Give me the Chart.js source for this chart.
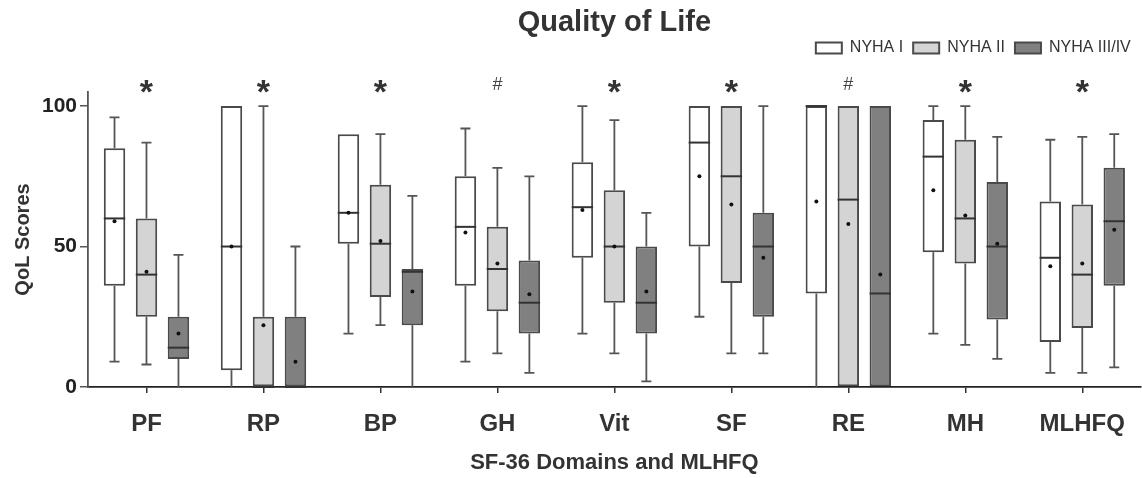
<!DOCTYPE html>
<html><head><meta charset="utf-8">
<script src="https://cdn.jsdelivr.net/npm/chart.js@4.4.1/dist/chart.umd.min.js"></script>
<style>html,body{margin:0;padding:0;background:#fff;} #wrap{width:1142px;height:478px;position:relative;}</style>
</head><body><div id="wrap"><canvas id="c"></canvas></div>
<script>
const categories = ['PF','RP','BP','GH','Vit','SF','RE','MH','MLHFQ'];
const groups = ['NYHA I','NYHA II','NYHA III/IV'];
const sigMarks = ['*','*','*','#','*','*','#','*','*'];
const yTickValues = [0, 50, 100];

// NYHA I
const min1  = [9, 0, 19, 9, 19, 25, 0, 19, 5];
const q1_1  = [36, 6, 51, 36, 46, 50, 33.3, 48, 16];
const med1  = [60, 50, 62, 57, 64, 87, 100, 82, 46];
const q3_1  = [85, 100, 90, 75, 80, 100, 100, 95, 66];
const max1  = [96, 100, 90, 92, 100, 100, 100, 100, 88];
const mean1 = [59, 50, 62, 55, 63, 75, 66, 70, 43];
// NYHA II
const min2  = [8, 0, 22, 12, 12, 12, 0, 15, 5];
const q1_2  = [25, 0, 32, 27, 30, 37, 0, 44, 21];
const med2  = [40, 0, 51, 42, 50, 75, 66.7, 60, 40];
const q3_2  = [60, 25, 72, 57, 70, 100, 100, 88, 65];
const max2  = [87, 100, 90, 78, 95, 100, 100, 100, 89];
const mean2 = [41, 22, 52, 44, 50, 65, 58, 61, 44];
// NYHA III/IV
const min3  = [0, 0, 0, 5, 2, 12, 0, 10, 7];
const q1_3  = [10, 0, 22, 19, 19, 25, 0, 24, 36];
const med3  = [14, 0, 41, 30, 30, 50, 33.3, 50, 59];
const q3_3  = [25, 25, 42, 45, 50, 62, 100, 73, 78];
const max3  = [47, 50, 68, 75, 62, 100, 100, 89, 90];
const mean3 = [19, 9, 34, 33, 34, 46, 40, 51, 56];

const MIN = [min1, min2, min3], Q1 = [q1_1, q1_2, q1_3], MED = [med1, med2, med3],
      Q3 = [q3_1, q3_2, q3_3], MAX = [max1, max2, max3], MEAN = [mean1, mean2, mean3];

Chart.defaults.font.family = "'Liberation Sans', Arial, sans-serif";
Chart.defaults.color = '#333';

const fills = ['#ffffff', '#d4d4d4', '#808080'];
const datasets = groups.map((g, i) => ({
  label: g,
  data: categories.map((c, j) => [Q1[i][j], Q3[i][j]]),
  backgroundColor: fills[i],
  borderColor: '#4a4a4a',
  borderWidth: 2,
  borderSkipped: false,
  categoryPercentage: 0.82,
  barPercentage: 0.67
}));

const boxExtras = {
  id: 'boxExtras',
  afterDatasetsDraw(chart) {
    const ctx = chart.ctx, y = chart.scales.y;
    groups.forEach((g, i) => {
      const meta = chart.getDatasetMeta(i);
      meta.data.forEach((bar, j) => {
        const x = bar.x, w = bar.width;
        const p = v => y.getPixelForValue(v);
        ctx.save();
        ctx.strokeStyle = '#555';
        ctx.lineWidth = 1.8;
        if (MAX[i][j] > Q3[i][j]) {
          ctx.beginPath(); ctx.moveTo(x, p(Q3[i][j])); ctx.lineTo(x, p(MAX[i][j]));
          ctx.moveTo(x - 5, p(MAX[i][j])); ctx.lineTo(x + 5, p(MAX[i][j])); ctx.stroke();
        }
        if (MIN[i][j] < Q1[i][j]) {
          ctx.beginPath(); ctx.moveTo(x, p(Q1[i][j])); ctx.lineTo(x, p(MIN[i][j]));
          if (MIN[i][j] > 0) { ctx.moveTo(x - 5, p(MIN[i][j])); ctx.lineTo(x + 5, p(MIN[i][j])); }
          ctx.stroke();
        }
        ctx.strokeStyle = '#333';
        ctx.lineWidth = 2;
        ctx.beginPath(); ctx.moveTo(x - w / 2, p(MED[i][j])); ctx.lineTo(x + w / 2, p(MED[i][j])); ctx.stroke();
        ctx.fillStyle = '#111';
        ctx.beginPath(); ctx.arc(x, p(MEAN[i][j]), 2, 0, Math.PI * 2); ctx.fill();
        ctx.restore();
      });
    });
    const mid = chart.getDatasetMeta(1);
    ctx.save();
    ctx.textAlign = 'center';
    ctx.textBaseline = 'alphabetic';
    mid.data.forEach((bar, j) => {
      if (sigMarks[j] === '*') {
        ctx.fillStyle = '#333';
        ctx.font = "bold 34px 'Liberation Sans', Arial, sans-serif";
        ctx.fillText('*', bar.x, 103);
      } else {
        ctx.fillStyle = '#444';
        ctx.font = "18px 'Liberation Sans', Arial, sans-serif";
        ctx.fillText('#', bar.x, 90);
      }
    });
    ctx.restore();
  }
};

new Chart(document.getElementById('c'), {
  type: 'bar',
  data: { labels: categories, datasets },
  plugins: [boxExtras],
  options: {
    responsive: true,
    maintainAspectRatio: false,
    animation: false,
    layout: { padding: 0 },
    plugins: {
      title: {
        display: true, text: 'Quality of Life', fullSize: false,
        font: { size: 29, weight: 'bold', lineHeight: 1 },
        color: '#333',
        padding: { top: 8, bottom: -7 }
      },
      legend: {
        position: 'top', align: 'end', fullSize: false,
        labels: { boxWidth: 26, boxHeight: 11, padding: 10, font: { size: 16 }, color: '#333' }
      },
      tooltip: { enabled: false }
    },
    scales: {
      xTop: {
        type: 'category', labels: categories, position: 'top',
        grid: { display: false }, border: { display: false }, ticks: { display: false },
        afterFit: s => { s.height = 26; }
      },
      x: {
        type: 'category',
        grid: { display: true, offset: false, drawOnChartArea: false, drawTicks: true, tickLength: 6, color: '#333', lineWidth: 1.5 },
        border: { display: true, color: '#222', width: 1.8 },
        ticks: { font: { size: 24, weight: 'bold' }, color: '#333', padding: 17, maxRotation: 0 },
        title: { display: true, text: 'SF-36 Domains and MLHFQ', font: { size: 22, weight: 'bold' }, color: '#333', padding: { top: 4, bottom: 2 } },
        afterFit: s => { s.height = 91; }
      },
      y: {
        type: 'linear', min: 0, max: 105,
        afterBuildTicks: s => { s.ticks = yTickValues.map(v => ({ value: v })); },
        grid: { display: true, drawOnChartArea: false, drawTicks: true, tickLength: 8, color: '#555', lineWidth: 1.5 },
        border: { display: true, color: '#555', width: 1.8 },
        ticks: { font: { size: 21, weight: 'bold' }, color: '#222', padding: 3 },
        title: { display: true, text: 'QoL Scores', font: { size: 20, weight: 'bold' }, color: '#333', padding: { top: 11, bottom: 0 } },
        afterFit: s => { s.width = 88; }
      }
    }
  }
});
</script>
</body></html>
